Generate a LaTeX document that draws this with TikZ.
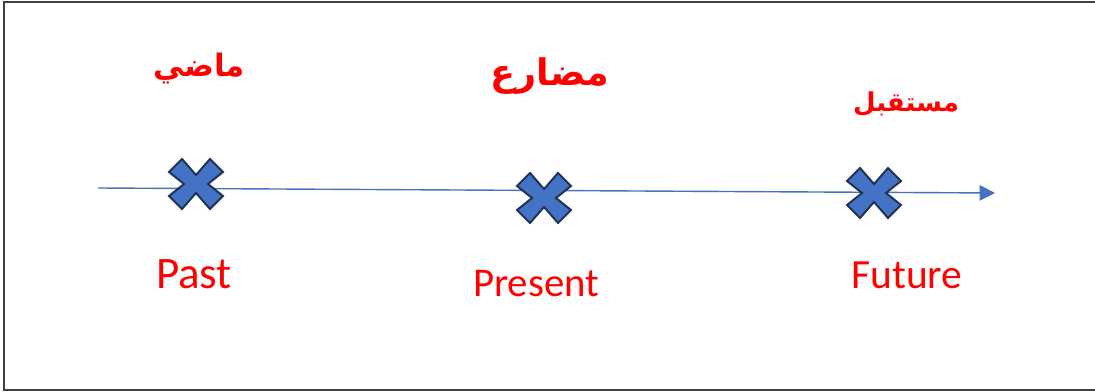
\documentclass[tikz,border=0pt]{standalone}
\usepackage{fontspec}
\setmainfont{Carlito}
\newfontfamily\arabicfont[Script=Arabic]{DejaVu Sans}
\TeXXeTstate=1
\usetikzlibrary{arrows.meta}

\definecolor{axisblue}{HTML}{4472C4}
\definecolor{crossedge}{HTML}{1F3354}

\tikzset{
    timeline/.style={axisblue, line width=1pt, -{Triangle[length=11pt, width=11pt]}},
    frameline/.style={black!75, line width=1.4pt},
    arlabel/.style={text=red, anchor=base, font=\arabicfont\bfseries},
    enlabel/.style={text=red, anchor=base},
    xmark/.pic={
        \draw[fill=axisblue, draw=crossedge, line width=1.4pt, line join=miter]
            (0,-9) -- (14,-25) -- (27,-12) -- (12,0) -- (27,12) -- (14,25)
            -- (0,9) -- (-14,25) -- (-27,12) -- (-12,0) -- (-27,-12) -- (-14,-25) -- cycle;
    }
}

\begin{document}
\begin{tikzpicture}[x=0.025cm, y=-0.025cm]
    \useasboundingbox (0,0) rectangle (1095,392);

    % --- frame ---
    \draw[frameline] (4,2) -- (1095,2);
    \draw[frameline] (4,1.5) -- (4,390.5);
    \draw[frameline] (4,390) -- (1095,390);

    % --- time axis ---
    \coordinate (start) at (98,188);
    \coordinate (end) at (995,193);
    \draw[timeline] (start) -- (end);

    % --- marks ---
    \coordinate (past) at (196,184);
    \coordinate (present) at (544,198);
    \coordinate (future) at (874,193);
    \pic at (past) {xmark};
    \pic at (present) {xmark};
    \pic at (future) {xmark};

    % --- labels ---
    \node[arlabel, font=\arabicfont\bfseries\fontsize{22}{26}\selectfont] (madi) at (199,77) {\beginR ماضي\endR};
    \node[arlabel, font=\arabicfont\bfseries\fontsize{26}{30}\selectfont] (mudari) at (550,86) {\beginR مضارع\endR};
    \node[arlabel, font=\arabicfont\bfseries\fontsize{18.5}{22}\selectfont] (mustaqbal) at (906,112) {\beginR مستقبل\endR};

    \node[enlabel, font=\fontsize{32}{38}\selectfont] (pastlbl) at (194,289) {Past};
    \node[enlabel, font=\fontsize{29}{35}\selectfont] (presentlbl) at (536,297) {Present};
    \node[enlabel, font=\fontsize{29.5}{35}\selectfont] (futurelbl) at (907,289) {Future};
\end{tikzpicture}
\end{document}
